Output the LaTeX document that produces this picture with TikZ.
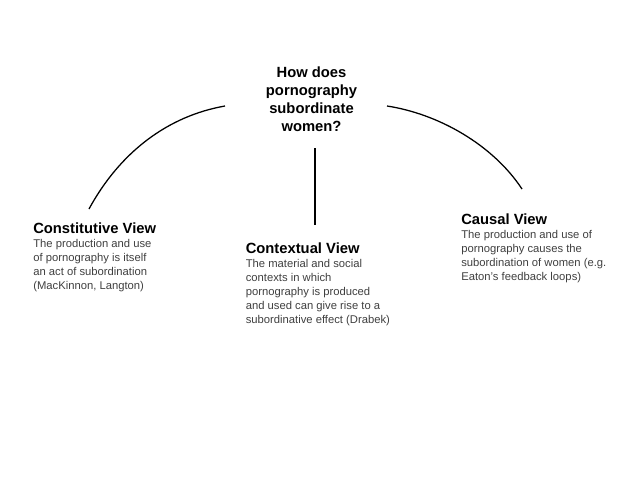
\documentclass[tikz,border=0pt]{standalone}
\usepackage{fontspec}
\setmainfont{Liberation Sans}

\tikzset{
  heading/.style = {anchor = base west, inner sep = 0pt, font = \bfseries\fontsize{10.5}{12.8}\selectfont},
  blurb/.style = {anchor = base west, inner sep = 0pt, align = left, text = black!75, font = \fontsize{8}{9.9}\selectfont},
  link/.style = {line width = 0.9pt}
}

\begin{document}
\begin{tikzpicture}[x = 0.025cm, y = -0.025cm]

\useasboundingbox [fill = white] (0,0) rectangle (640,480);

\node [heading, anchor = base, align = center] (question) at (311.5,131) {How does\\pornography\\subordinate\\women?};

\node [heading] (constitutive) at (33,233) {Constitutive View};
\node [blurb] (constitutivetext) at (33,289) {The production and use\\of pornography is itself\\an act of subordination\\(MacKinnon, Langton)};

\node [heading] (contextual) at (245.5,253) {Contextual View};
\node [blurb] (contextualtext) at (245.5,323) {The material and social\\contexts in which\\pornography is produced\\and used can give rise to a\\subordinative effect (Drabek)};

\node [heading] (causal) at (461,224) {Causal View};
\node [blurb] (causaltext) at (461,280) {The production and use of\\pornography causes the\\subordination of women (e.g.\\Eaton's feedback loops)};

\coordinate (leftstart) at (225,106);
\coordinate (leftend) at (89,209);
\coordinate (rightstart) at (387,106);
\coordinate (rightend) at (522,189);
\coordinate (midstart) at (315,148);
\coordinate (midend) at (315,225);

\draw [link] (leftstart) .. controls (168,116) and (120,152) .. (leftend);
\draw [link] (rightstart) .. controls (439,114) and (493,145) .. (rightend);
\draw [link] (midstart) -- (midend);

\end{tikzpicture}
\end{document}
